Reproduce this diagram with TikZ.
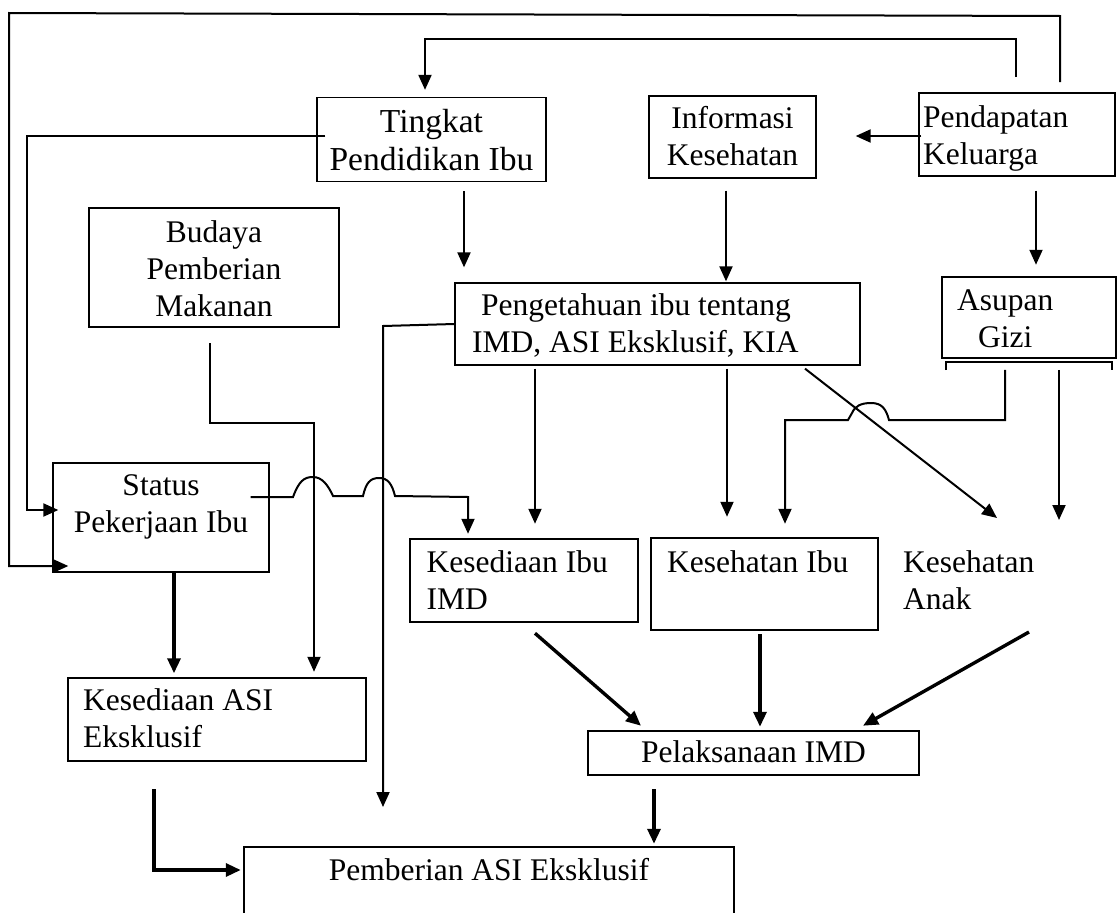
\documentclass[tikz,border=0pt]{standalone}
\usepackage{fontspec}
\setmainfont{Liberation Serif}
\usetikzlibrary{arrows.meta,calc}
\begin{document}
\begin{tikzpicture}[x=1pt,y=-1pt,
  bx/.style 2 args={draw,line width=1.3pt,inner sep=0pt,minimum width=#1pt,minimum height=#2pt},
  bxthick/.style={line width=2.5pt},
  tx/.style={inner sep=0pt,anchor=base west,font=\fontsize{31.5}{37}\selectfont},
  txc/.style={tx,anchor=base},
  ln/.style={line width=2pt},
  arr/.style={ln,-{Triangle[length=15pt,width=13pt]}},
  tarr/.style={arr,line width=3.4pt},
]
\useasboundingbox (0,0) rectangle (1117,913);

% ---------- boxes ----------
\node[bx={229}{84}] (tp) at (431.5,139.5) {};
\node[txc,font=\fontsize{33.5}{37.5}\selectfont] (tpt) at (431.5,132.5) {\parbox[t]{229pt}{\centering Tingkat\\Pendidikan Ibu}};

\node[bx={167}{82}] (inf) at (732.5,137) {};
\node[txc] (inft) at (732.5,128.5) {\parbox[t]{167pt}{\centering Informasi\\Kesehatan}};

\node[bx={196}{83}] (pk) at (1017,134.5) {};
\node[tx] (pkt) at (923,127) {\parbox[t]{190pt}{Pendapatan\\Keluarga}};

\node[bx={250}{119}] (bud) at (214,267.5) {};
\node[txc] (budt) at (214,242) {\parbox[t]{250pt}{\centering Budaya\\Pemberian\\Makanan}};

\node[bx={405}{82}] (peng) at (657.5,324) {};
\node[tx] (pengt) at (472,315) {\parbox[t]{385pt}{\hspace*{9pt}Pengetahuan ibu tentang\\IMD, ASI Eksklusif, KIA}};

\node[bx={174}{81},bxthick] (asu) at (1029,317.5) {};
\node[tx] (asut) at (957,310) {\parbox[t]{155pt}{Asupan\\\hspace*{21pt}Gizi}};
\draw[ln] (946,370) -- (946,362) -- (1112,362) -- (1112,370);

\node[bx={216}{109}] (st) at (161,517.5) {};
\node[txc] (stt) at (161,495) {\parbox[t]{216pt}{\centering Status\\Pekerjaan Ibu}};

\node[bx={228}{83},bxthick] (kim) at (524,580.5) {};
\node[tx] (kimt) at (426.5,572) {\parbox[t]{205pt}{Kesediaan Ibu\\IMD}};

\node[bx={227}{92},bxthick] (keh) at (764.5,584) {};
\node[tx] (keht) at (667,572) {\parbox[t]{205pt}{Kesehatan Ibu}};

\node[tx] (ka) at (903,572) {\parbox[t]{200pt}{Kesehatan\\Anak}};

\node[bx={298}{83},bxthick] (kasi) at (217,719.5) {};
\node[tx] (kasit) at (83,710) {\parbox[t]{270pt}{Kesediaan ASI\\Eksklusif}};

\node[bx={331}{44},bxthick] (pel) at (753.5,753) {};
\node[txc] (pelt) at (753.5,762) {\parbox[t]{331pt}{\centering Pelaksanaan IMD}};

\node[bx={490}{110},bxthick] (pem) at (489,902) {};
\node[txc] (pemt) at (489,880) {\parbox[t]{490pt}{\centering Pemberian ASI Eksklusif}};

% ---------- connectors ----------
% outer loop: Pendapatan -> Status
\coordinate (o1) at (1060,82);
\coordinate (o2) at (1060,16);
\coordinate (o3) at (9,13);
\coordinate (o4) at (9,566);
\draw[arr] (o1) -- (o2) -- (o3) -- (o4) -- ($(st.west)+(16,48.5)$);

% inner loop: Pendapatan -> Tingkat
\coordinate (i1) at (1016,77);
\coordinate (i2) at (1016,38.5);
\coordinate (i3) at (425,38.5);
\draw[arr] (i1) -- (i2) -- (i3) -- ($(tp.north)+(-6.5,-7)$);

% Tingkat -> Status
\coordinate (t1) at (27,136);
\coordinate (t2) at (27,510);
\draw[arr] ($(tp.west)+(9,-3.5)$) -- (t1) -- (t2) -- ($(st.west)+(6,-7.5)$);

% Pendapatan -> Informasi
\draw[arr] ($(pk.west)+(3,1.5)$) -- ($(inf.east)+(39,-1)$);

% Tingkat -> Pengetahuan
\draw[arr] ($(tp.south)+(32.5,9)$) -- ($(peng.north)+(-193.5,-15)$);
% Informasi -> Pengetahuan
\draw[arr] ($(inf.south)+(-6.5,12)$) -- ($(peng.north)+(68.5,-1)$);
% Pendapatan -> Asupan
\draw[arr] ($(pk.south)+(19,14)$) -- ($(asu.north)+(7,-11)$);

% Pengetahuan -> Pemberian (left branch)
\coordinate (p1) at (383,326);
\coordinate (p2) at (383,807);
\draw[arr] (peng.west) -- (p1) -- (p2);

% Budaya -> Kesediaan ASI
\coordinate (b1) at (210,343);
\coordinate (b2) at (210,423);
\coordinate (b3) at (314,423);
\draw[arr] (b1) -- (b2) -- (b3) -- ($(kasi.north)+(97,-5)$);

% Status -> Kesediaan Ibu IMD (with jumps)
\draw[arr] ($(st.east)+(-19,-20.5)$) -- (293,497)
  .. controls (299,481) and (304,477) .. (313,477)
  .. controls (322,477) and (328,485) .. (333,496)
  -- (363,496)
  .. controls (366,483) and (370,478) .. (379,478)
  .. controls (388,478) and (392,484) .. (395,496)
  -- (468,497) -- ($(kim.north)+(-56,-4)$);

% Status -> Kesediaan ASI
\draw[tarr] (st.south -| 174,0) -- ($(kasi.north)+(-43,-3.5)$);

% Pengetahuan -> Kesediaan Ibu IMD / Kesehatan Ibu / Kesehatan Anak
\draw[arr] ($(peng.south)+(-122.5,3)$) -- ($(kim.north)+(11,-14)$);
\draw[arr] ($(peng.south)+(69.5,3)$) -- ($(keh.north)+(-37.5,-20)$);
\coordinate (kat) at (997,518);
\draw[arr] ($(peng.south)+(147.5,3)$) -- (kat);

% Asupan -> Kesehatan Ibu (with jump)
\draw[arr] ($(asu.south)+(-24,10.5)$) -- (1005,420) -- (889,420)
  .. controls (886,409) and (882,403) .. (871,403)
  .. controls (861,403) and (855,406) .. (852,413)
  -- (848,420) -- (785,420) -- ($(keh.north)+(20.5,-13)$);
% Asupan -> Kesehatan Anak
\coordinate (kat2) at (1059,520);
\draw[arr] ($(asu.south)+(30,10.5)$) -- (kat2);

% into Pelaksanaan IMD
\draw[tarr] ($(kim.south)+(11,10)$) -- ($(pel.north)+(-112.5,-4)$);
\draw[tarr] ($(keh.south)+(-4.5,3)$) -- ($(pel.north)+(6.5,-3)$);
\coordinate (kab) at (1029,632);
\draw[tarr] (kab) -- ($(pel.north)+(109.5,-4)$);

% Pelaksanaan -> Pemberian
\draw[tarr] ($(pel.south)+(-99.5,13)$) -- ($(pem.north)+(165,-2)$);

% Kesediaan ASI -> Pemberian
\coordinate (k1) at (154,870);
\draw[tarr] ($(kasi.south)+(-63,27)$) -- (k1) -- ($(pem.west)+(-2,-32)$);
\end{tikzpicture}
\end{document}
